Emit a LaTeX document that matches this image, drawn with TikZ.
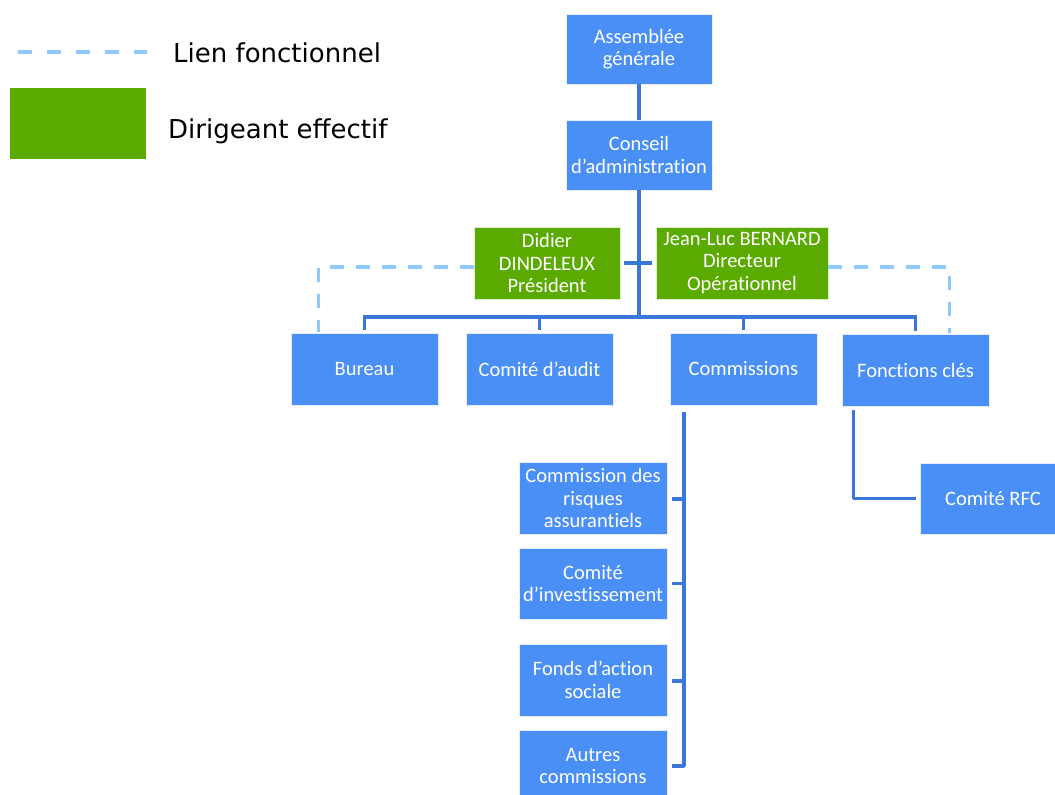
\documentclass[tikz,border=0pt]{standalone}
\usepackage{fontspec}
\setmainfont{Carlito}[Ligatures=NoCommon]
\newfontfamily\legendfont{DejaVu Sans}
\usetikzlibrary{calc}
\definecolor{boxblue}{RGB}{74,143,245}
\definecolor{lineblue}{RGB}{58,120,216}
\definecolor{dashblue}{RGB}{143,201,255}
\definecolor{boxgreen}{RGB}{90,170,0}
\begin{document}
\begin{tikzpicture}[x=1pt,y=-1pt,
  box/.style={draw=white!85!boxblue,line width=0.6pt,fill=boxblue,text=white,align=center,
    inner sep=0pt,minimum width=147pt,minimum height=72pt,
    font=\fontsize{20.5}{22.5}\selectfont},
  gbox/.style={box,fill=boxgreen,draw=white!80!boxgreen},
  conn/.style={draw=lineblue,line width=3.5pt},
  fl/.style={draw=dashblue,line width=3.5pt,dash pattern=on 14pt off 12pt},
  legtext/.style={anchor=west,inner sep=0pt,font=\legendfont\fontsize{26}{30}\selectfont}]
\useasboundingbox (0,0) rectangle (1055,795);
\clip (0,0) rectangle (1055,795);
% legend
\coordinate (l1) at (18,52);
\coordinate (l2) at (147,52);
\draw[fl,dash pattern=on 14pt off 15pt] (l1) -- (l2);
\node[legtext] (lt1) at (173,53) {Lien fonctionnel};
\node[fill=boxgreen,minimum width=136pt,minimum height=71pt,inner sep=0pt] (lg) at (78,123.5) {};
\node[legtext] (lt2) at (168,131) {Dirigeant effectif};
% boxes
\node[box,minimum width=146pt,minimum height=70pt] (ag) at (639,49) {Assemblée\\générale};
\node[box,minimum width=146pt,minimum height=70pt] (ca) at (639,155) {Conseil\\d’administration};
\node[gbox,minimum width=146pt] (did) at (547,263) {Didier\\DINDELEUX\\Président};
\node[gbox,minimum width=172pt] (jlb) at (742,263) {Jean-Luc BERNARD\\Directeur\\Opérationnel};
\node[box] (bur) at (364.5,369) {Bureau};
\node[box] (aud) at (539.5,369) {Comité d’audit};
\node[box] (com) at (743.5,369) {Commissions};
\node[box] (fon) at (915.5,370) {Fonctions clés};
\node[box,minimum width=148pt] (c1) at (593,498) {Commission des\\risques\\assurantiels};
\node[box,minimum width=148pt,minimum height=71pt] (c2) at (593,583.5) {Comité\\d’investissement};
\node[box,minimum width=148pt] (c3) at (593,680) {Fonds d’action\\sociale};
\node[box,minimum width=148pt] (c4) at (593,766) {Autres\\commissions};
\node[box,minimum width=146pt,minimum height=71pt] (rfc) at (993,498.5) {Comité RFC};
% connectors
\coordinate (bus) at (639,317);
\draw[conn] (ag.south) -- (ca.north);
\draw[conn] (ca.south) -- (bus);
\draw[conn] ($(bur.north)+(0,-3)$) |- (bus) -| ($(fon.north)+(0,-3)$);
\draw[conn] ($(aud.north)+(0,-3)$) -- (aud.north |- bus);
\draw[conn] ($(com.north)+(0,-3)$) -- (com.north |- bus);
\draw[conn] ($(did.east)+(4,0)$) -- ($(jlb.west)+(-4,0)$);
% functional links
\draw[fl] ($(did.west)+(0,4)$) -| ($(bur.north west)+(28,-1)$);
\draw[fl] ($(jlb.east)+(0,4)$) -| ($(fon.north east)+(-40,-1)$);
% commissions tree
\coordinate (vtop) at (684,412);
\draw[conn,line join=round] (vtop) |- ($(c4.east)+(5,0)$);
\draw[conn] ($(c1.east)+(5,1)$) -- (vtop |- {$(c1.east)+(0,1)$});
\draw[conn] ($(c2.east)+(5,0)$) -- (vtop |- c2.east);
\draw[conn] ($(c3.east)+(5,1)$) -- (vtop |- {$(c3.east)+(0,1)$});
% fonctions cles -> RFC
\draw[conn,line join=round] ($(fon.south west)+(12,4)$) |- ($(rfc.west)+(-4,0)$);
\end{tikzpicture}
\end{document}
